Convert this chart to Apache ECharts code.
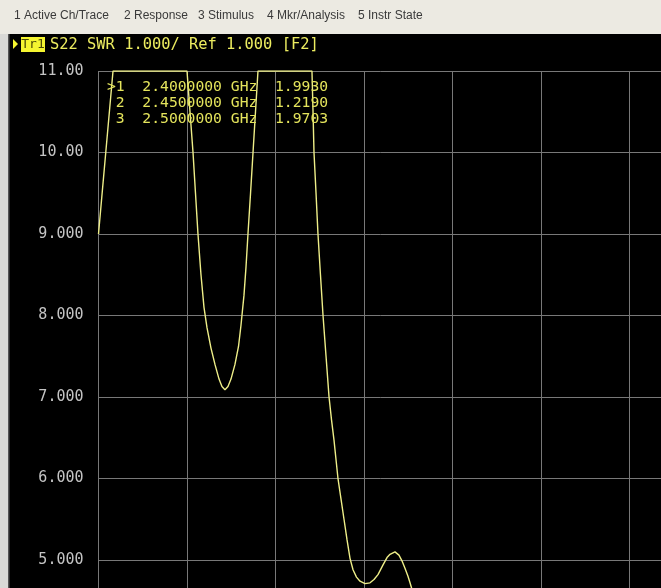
<!DOCTYPE html>
<html>
<head>
<meta charset="utf-8">
<script src="https://cdn.jsdelivr.net/npm/echarts@6/dist/echarts.min.js"></script>
<style>
html,body{margin:0;padding:0;background:#000;}
#c{width:661px;height:588px;}
</style>
</head>
<body>
<div id="c"></div>
<script>
// Horizontal position in grid divisions (0..10), SWR value
const divX = [0.000, 0.164, 1.000, 1.034, 1.068, 1.096, 1.124, 1.158, 1.192, 1.226, 1.271, 1.316, 1.362, 1.395, 1.429, 1.463, 1.497,
  1.542, 1.582, 1.610, 1.644, 1.667, 1.689, 1.718, 1.746, 1.774, 1.802,
  2.412, 2.424, 2.435, 2.458, 2.480, 2.508, 2.537, 2.571, 2.605, 2.633, 2.661, 2.684, 2.706, 2.740, 2.774, 2.808, 2.842, 2.876,
  2.915, 2.955, 3.011, 3.068, 3.113, 3.158, 3.215, 3.260, 3.294, 3.350, 3.395, 3.429, 3.463, 3.497, 3.520, 3.542, 3.588];
const swr = [9.00, 11.00, 11.00, 10.50, 10.00, 9.50, 9.00, 8.50, 8.10, 7.85, 7.60, 7.40, 7.22, 7.13, 7.09, 7.13, 7.22,
  7.40, 7.62, 7.88, 8.25, 8.60, 9.00, 9.50, 10.00, 10.50, 11.00,
  11.00, 10.50, 10.00, 9.50, 9.00, 8.50, 8.00, 7.50, 7.00, 6.72, 6.47, 6.23, 6.00, 5.75, 5.50, 5.25, 5.02, 4.88,
  4.79, 4.74, 4.71, 4.72, 4.76, 4.82, 4.94, 5.03, 5.07, 5.10, 5.06, 4.99, 4.90, 4.80, 4.72, 4.64, 4.45];
const yMin = 1, yMax = 11, yStep = 1;
const xMin = 0, xMax = 10, xStep = 1;
const menuItems = ['1 Active Ch/Trace', '2 Response', '3 Stimulus', '4 Mkr/Analysis', '5 Instr State'];
const menuX = [14, 124, 198, 267, 358];
const titleText = 'S22 SWR 1.000/ Ref 1.000 [F2]';
const markerRows = ['>1  2.4000000 GHz  1.9930', ' 2  2.4500000 GHz  1.2190', ' 3  2.5000000 GHz  1.9703'];

const chart = echarts.init(document.getElementById('c'), null, {renderer: 'canvas'});
const mono = '"DejaVu Sans Mono", "Liberation Mono", monospace';
const graphics = [
  {type: 'rect', shape: {x: 0, y: 0, width: 661, height: 34}, style: {fill: '#eceae2'}, z: 10},
  {type: 'rect', shape: {x: 0, y: 34, width: 9, height: 554}, style: {fill: '#d9d9d6'}, z: 10},
  {type: 'rect', shape: {x: 8, y: 34, width: 1.5, height: 554}, style: {fill: '#555'}, z: 10},
  {type: 'polygon', shape: {points: [[13, 39], [18, 44], [13, 49]]}, style: {fill: '#f5f530'}, z: 10},
  {type: 'rect', shape: {x: 21, y: 37, width: 24, height: 15}, style: {fill: '#f5f530'}, z: 10},
  {type: 'text', style: {text: 'Tr1', x: 33, y: 44.5, align: 'center', verticalAlign: 'middle', fill: '#4a4a08', font: '13px ' + mono}, z: 11},
  {type: 'text', style: {text: titleText, x: 50, y: 45, verticalAlign: 'middle', fill: '#ecec60', font: '15.4px ' + mono}, z: 11}
];
menuItems.forEach((t, i) => graphics.push({type: 'text', style: {text: t, x: menuX[i], y: 16, verticalAlign: 'middle', fill: '#3a3a3a', font: '12px "Liberation Sans", Arial, sans-serif'}, z: 11}));
markerRows.forEach((t, i) => graphics.push({type: 'text', style: {text: t, x: 107, y: 87 + i * 16, verticalAlign: 'middle', fill: '#e4e45c', font: '14.7px ' + mono}, z: 11}));

chart.setOption({
  backgroundColor: '#000',
  animation: false,
  grid: {left: 98.5, top: 71, width: 885, height: 815, containLabel: false, outerBoundsMode: 'none'},
  xAxis: {
    type: 'value', min: xMin, max: xMax, interval: xStep,
    axisLine: {show: false}, axisTick: {show: false}, axisLabel: {show: false},
    splitLine: {show: true, lineStyle: {color: '#787878', width: 1}}
  },
  yAxis: {
    type: 'value', min: yMin, max: yMax, interval: yStep,
    axisLine: {show: false}, axisTick: {show: false},
    axisLabel: {
      show: true, margin: 15, color: '#c4c4c4', fontFamily: mono, fontSize: 15,
      formatter: v => v >= 10 ? v.toFixed(2) : v.toFixed(3)
    },
    splitLine: {show: true, lineStyle: {color: '#787878', width: 1}}
  },
  series: [{
    type: 'line', data: divX.map((x, i) => [x, swr[i]]),
    showSymbol: false, smooth: false, clip: true,
    lineStyle: {color: '#eeee88', width: 1.4}, z: 5
  }],
  graphic: graphics
});
</script>
</body>
</html>
